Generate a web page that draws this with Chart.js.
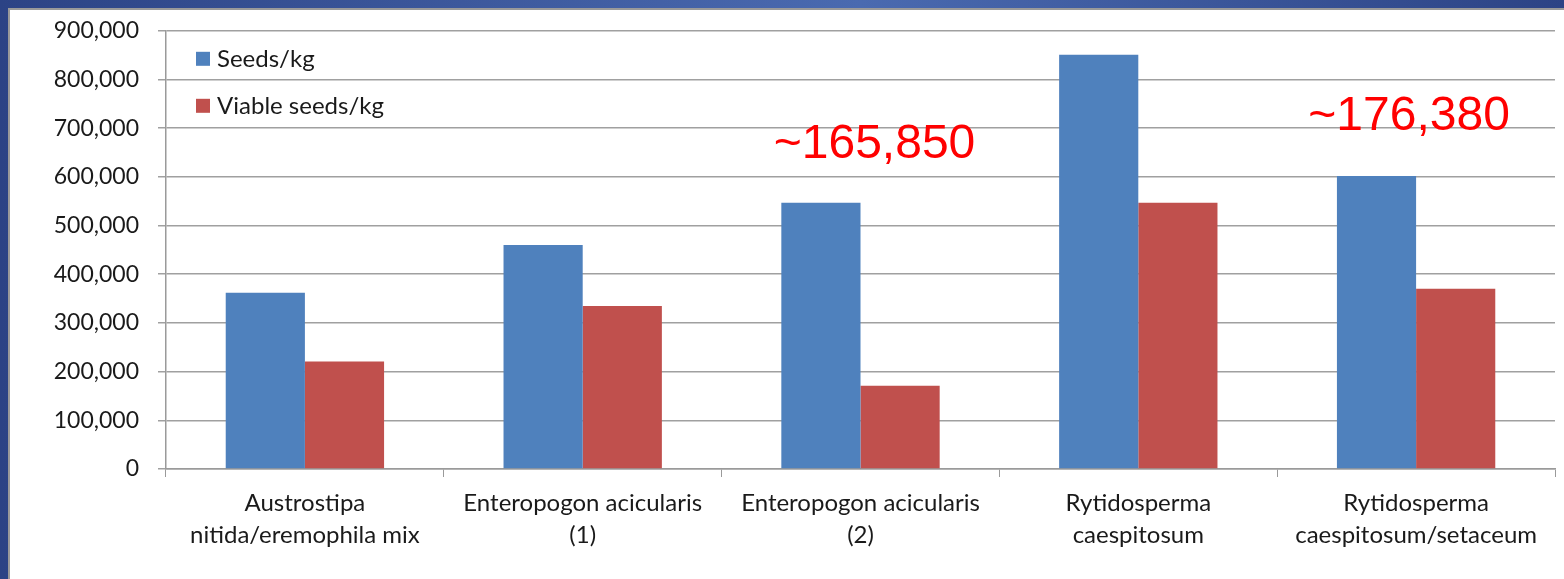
<!DOCTYPE html>
<html>
<head>
<meta charset="utf-8">
<script src="https://cdn.jsdelivr.net/npm/chart.js@4.4.0/dist/chart.umd.min.js"></script>
<style>
    html, body { margin: 0; padding: 0; }
    body {
        width: 1564px; height: 579px; overflow: hidden;
        background: linear-gradient(90deg, #2c4385 0%, #4a6ab0 55%, #2c4385 100%);
        position: relative;
    }
    #frame {
        position: absolute; left: 8px; top: 8px; right: 0; bottom: 0;
        background: #ffffff;
        border-left: 2px solid #9a9a9a; border-top: 2px solid #9a9a9a;
        box-sizing: border-box;
    }
    #wrap { position: absolute; left: 10px; top: -2px; width: 1554px; height: 581px; }
</style>
</head>
<body>
<div id="frame"></div>
<div id="wrap"><canvas id="seeds_chart"></canvas></div>
<script>
var categories = [
    ['Austrostipa', 'nitida/eremophila mix'],
    ['Enteropogon acicularis', '(1)'],
    ['Enteropogon acicularis', '(2)'],
    ['Rytidosperma', 'caespitosum'],
    ['Rytidosperma', 'caespitosum/setaceum']
];
var seedsPerKg = [362000, 460000, 547000, 851000, 602000];
var viablePerKg = [221000, 335000, 171000, 547000, 370000];
var seriesNames = ['Seeds/kg', 'Viable seeds/kg'];
var seriesColors = ['#4F81BD', '#C0504D'];
var noteTexts = ['~165,850', '~176,380'];
var noteCategory = [2, 4];

// legend drawn inside the plot, top left
var innerLegend = {
    id: 'innerLegend',
    afterDraw: function(chart) {
        var ctx = chart.ctx;
        var area = chart.chartArea;
        ctx.save();
        ctx.font = '24px Lato';
        ctx.textBaseline = 'middle';
        chart.data.datasets.forEach(function(ds, i) {
            var y = area.top + 28 + i * 47;
            ctx.fillStyle = ds.backgroundColor;
            ctx.fillRect(area.left + 30, y - 7, 14, 14);
            ctx.fillStyle = '#1a1a1a';
            ctx.fillText(ds.label, area.left + 51, y);
        });
        ctx.restore();
    }
};

// red notes above two groups
var redNotes = {
    id: 'redNotes',
    afterDraw: function(chart) {
        var ctx = chart.ctx;
        var xs = chart.scales.x;
        var area = chart.chartArea;
        var drops = [127, 99];
        ctx.save();
        ctx.font = '48px "Liberation Sans", Arial';
        ctx.fillStyle = '#ff0000';
        ctx.textAlign = 'center';
        ctx.textBaseline = 'alphabetic';
        noteTexts.forEach(function(t, i) {
            var x = xs.getPixelForValue(noteCategory[i]);
            ctx.fillText(t, x + [14, -7][i], area.top + drops[i]);
        });
        ctx.restore();
    }
};

var ctx = document.getElementById('seeds_chart').getContext('2d');
var myChart = new Chart(ctx, {
    type: 'bar',
    data: {
        labels: categories,
        datasets: [{
            label: seriesNames[0],
            data: seedsPerKg,
            backgroundColor: seriesColors[0]
        }, {
            label: seriesNames[1],
            data: viablePerKg,
            backgroundColor: seriesColors[1]
        }]
    },
    options: {
        responsive: true,
        maintainAspectRatio: false,
        animation: false,
        layout: { padding: { top: 8, right: 9, left: 0, bottom: 0 } },
        datasets: {
            bar: { categoryPercentage: 0.57, barPercentage: 1.0 }
        },
        plugins: {
            legend: { display: false },
            tooltip: { enabled: false }
        },
        scales: {
            x: {
                grid: {
                    offset: true,
                    drawOnChartArea: false,
                    drawTicks: true,
                    tickLength: 8,
                    color: '#9a9a9a'
                },
                border: { display: true, color: '#9a9a9a', width: 1.5 },
                ticks: {
                    font: { family: 'Lato', size: 24, lineHeight: 1.35 },
                    color: '#1a1a1a',
                    padding: 10,
                    maxRotation: 0,
                    autoSkip: false
                },
                afterFit: function(scale) { scale.height = 110; }
            },
            y: {
                min: 0,
                max: 900000,
                grid: {
                    color: '#a0a0a0',
                    lineWidth: 1.5,
                    tickLength: 8
                },
                border: { display: true, color: '#9a9a9a', width: 1.5 },
                ticks: {
                    stepSize: 100000,
                    font: { family: 'Lato', size: 23 },
                    color: '#1a1a1a',
                    padding: 19,
                    callback: function(v) { return v.toLocaleString('en-US'); }
                },
                afterFit: function(scale) { scale.width = 156; }
            }
        }
    },
    plugins: [innerLegend, redNotes]
});
</script>
</body>
</html>
